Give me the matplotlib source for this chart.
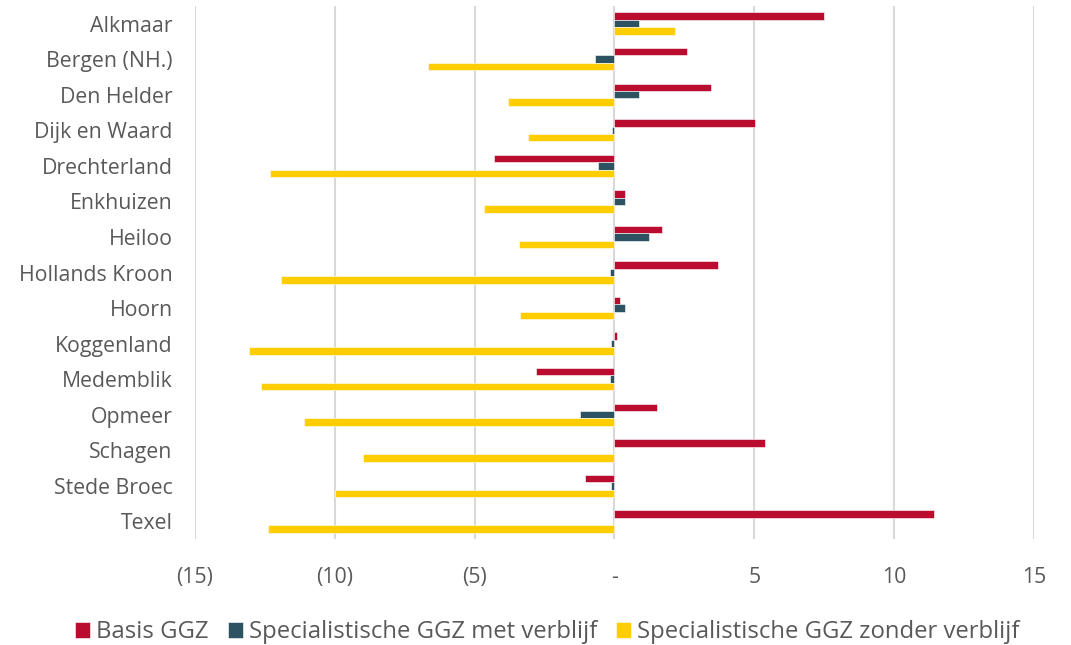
import numpy as np
import matplotlib.pyplot as plt

plt.rcParams['font.family'] = ['Open Sans', 'DejaVu Sans']

gemeenten = ['Alkmaar', 'Bergen (NH.)', 'Den Helder', 'Dijk en Waard', 'Drechterland',
             'Enkhuizen', 'Heiloo', 'Hollands Kroon', 'Hoorn', 'Koggenland',
             'Medemblik', 'Opmeer', 'Schagen', 'Stede Broec', 'Texel']

basis_ggz = [7.48, 2.61, 3.44, 5.03, -4.31, 0.39, 1.69, 3.69, 0.19, 0.10,
             -2.82, 1.53, 5.38, -1.06, 11.42]
spec_met_verblijf = [0.87, -0.71, 0.87, -0.10, -0.60, 0.36, 1.22, -0.16, 0.36, -0.13,
                     -0.16, -1.22, -0.02, -0.13, -0.02]
spec_zonder_verblijf = [2.17, -6.67, -3.82, -3.10, -12.31, -4.66, -3.42, -11.92, -3.38, -13.06,
                        -12.65, -11.09, -8.99, -10.00, -12.38]

x_ticks = [-15, -10, -5, 0, 5, 10, 15]
x_ticklabels = ['(15)', '(10)', '(5)', '-', '5', '10', '15']

series = [
    ('Basis GGZ', basis_ggz, '#BA0C2F'),
    ('Specialistische GGZ met verblijf', spec_met_verblijf, '#2D5363'),
    ('Specialistische GGZ zonder verblijf', spec_zonder_verblijf, '#FFCD00'),
]
tekst_kleur = '#595959'

fig = plt.figure(figsize=(10.71, 6.45), dpi=100)
ax = fig.add_axes([0.182, 0.164, 0.7835, 0.827])

y = np.arange(len(gemeenten))
h = 0.21
for i, (naam, vals, kleur) in enumerate(series):
    ax.barh(y + (i - 1) * h, vals, height=h, color=kleur, label=naam,
            edgecolor='white', linewidth=0.4, zorder=3)

ax.set_ylim(len(gemeenten) - 0.5, -0.5)
ax.set_xlim(-15, 15)
ax.set_yticks(y)
ax.set_yticklabels(gemeenten)
ax.set_xticks(x_ticks)
ax.set_xticklabels(x_ticklabels)

ax.grid(axis='x', color='#d9d9d9', linewidth=1.5, zorder=0)
ax.grid(axis='y', visible=False)
for s in ax.spines.values():
    s.set_visible(False)
ax.tick_params(axis='both', length=0, labelsize=15.3, colors=tekst_kleur)
ax.tick_params(axis='y', pad=16)
ax.tick_params(axis='x', pad=20)

ax.legend(loc='upper center', bbox_to_anchor=(0.42, -0.112), ncol=3, frameon=False,
          fontsize=17.2, handlelength=0.63, handleheight=0.63, handletextpad=0.25,
          columnspacing=0.8, labelcolor=tekst_kleur)

fig.savefig('out.png', dpi=100)
